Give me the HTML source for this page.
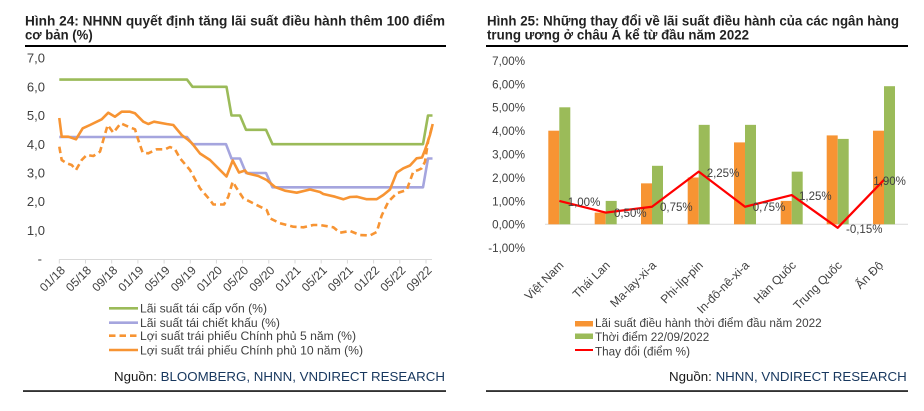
<!DOCTYPE html>
<html>
<head>
<meta charset="utf-8">
<style>
html,body{margin:0;padding:0;background:#fff;}
svg{display:block;}
text{font-family:"Liberation Sans",Arial,sans-serif;}
</style>
</head>
<body>
<svg width="924" height="411" viewBox="0 0 924 411" xmlns="http://www.w3.org/2000/svg">
<rect width="924" height="411" fill="#fff"/>

<!-- ============ LEFT CHART ============ -->
<text x="25" y="25.7" font-size="13.5" font-weight="bold" fill="#222" textLength="420" lengthAdjust="spacingAndGlyphs">Hình 24: NHNN quyết định tăng lãi suất điều hành thêm 100 điểm</text>
<text x="25" y="39.3" font-size="13.5" font-weight="bold" fill="#222" textLength="67.7" lengthAdjust="spacingAndGlyphs">cơ bản (%)</text>
<rect x="25" y="45" width="421" height="2" fill="#000"/>

<!-- y labels -->
<g font-size="13" fill="#404040" text-anchor="end">
<text x="45" y="62.7">7,0</text>
<text x="45" y="91.4">6,0</text>
<text x="45" y="120.1">5,0</text>
<text x="45" y="148.8">4,0</text>
<text x="45" y="177.5">3,0</text>
<text x="45" y="206.2">2,0</text>
<text x="45" y="234.9">1,0</text>
<text x="42" y="263.6">-</text>
</g>

<!-- x axis -->
<line x1="59" y1="259.5" x2="432" y2="259.5" stroke="#D9D9D9" stroke-width="1"/>
<g stroke="#D9D9D9" stroke-width="1">
<line x1="59.3" y1="259.5" x2="59.3" y2="263.5"/>
<line x1="85.5" y1="259.5" x2="85.5" y2="263.5"/>
<line x1="111.7" y1="259.5" x2="111.7" y2="263.5"/>
<line x1="137.9" y1="259.5" x2="137.9" y2="263.5"/>
<line x1="164.1" y1="259.5" x2="164.1" y2="263.5"/>
<line x1="190.3" y1="259.5" x2="190.3" y2="263.5"/>
<line x1="216.4" y1="259.5" x2="216.4" y2="263.5"/>
<line x1="242.6" y1="259.5" x2="242.6" y2="263.5"/>
<line x1="268.8" y1="259.5" x2="268.8" y2="263.5"/>
<line x1="295.0" y1="259.5" x2="295.0" y2="263.5"/>
<line x1="321.2" y1="259.5" x2="321.2" y2="263.5"/>
<line x1="347.4" y1="259.5" x2="347.4" y2="263.5"/>
<line x1="373.6" y1="259.5" x2="373.6" y2="263.5"/>
<line x1="399.8" y1="259.5" x2="399.8" y2="263.5"/>
<line x1="426.0" y1="259.5" x2="426.0" y2="263.5"/>
</g>
<g font-size="12" fill="#404040" text-anchor="end">
<text transform="translate(65.8,271) rotate(-45)">01/18</text>
<text transform="translate(92.0,271) rotate(-45)">05/18</text>
<text transform="translate(118.2,271) rotate(-45)">09/18</text>
<text transform="translate(144.4,271) rotate(-45)">01/19</text>
<text transform="translate(170.6,271) rotate(-45)">05/19</text>
<text transform="translate(196.8,271) rotate(-45)">09/19</text>
<text transform="translate(222.9,271) rotate(-45)">01/20</text>
<text transform="translate(249.1,271) rotate(-45)">05/20</text>
<text transform="translate(275.3,271) rotate(-45)">09/20</text>
<text transform="translate(301.5,271) rotate(-45)">01/21</text>
<text transform="translate(327.7,271) rotate(-45)">05/21</text>
<text transform="translate(353.9,271) rotate(-45)">09/21</text>
<text transform="translate(380.1,271) rotate(-45)">01/22</text>
<text transform="translate(406.3,271) rotate(-45)">05/22</text>
<text transform="translate(432.5,271) rotate(-45)">09/22</text>
</g>

<!-- series -->
<polyline fill="none" stroke="#9BBB59" stroke-width="2.6" stroke-linejoin="round"
 points="59.3,79.6 187,79.6 192.5,86.8 226.5,86.8 231.5,115.5 240,115.5 246,129.8 266,129.8 272.5,144.2 423,144.2 428,115.5 432.5,115.5"/>
<polyline fill="none" stroke="#A5A5DE" stroke-width="2.6" stroke-linejoin="round"
 points="59.3,137 187,137 192.5,144.2 226,144.2 231.5,158.5 240,158.5 246,173 266,173 272.5,187.3 423,187.3 428,158.5 432.5,158.5"/>
<polyline fill="none" stroke="#F79433" stroke-width="2.6" stroke-linejoin="round" stroke-dasharray="6.5,4"
 points="59.3,146.7 61.7,160 66.7,163.3 71.7,165 76,170 81.7,160 86.7,155 93.3,156 100,151.7 103.3,140 107.7,125 113.3,132.7 120.7,123.3 128.3,126.7 135,129.3 138.3,140 142.7,152.7 148.3,153.3 156.7,149.3 165,149.3 170,147 175,149.3 180,158.3 190,170 200,188.3 210,200 213.3,204.5 224,204.5 228.3,196.7 232.7,181.7 236.7,188.3 243.3,198.3 253.3,203.3 263.3,208.3 266.7,210 270,218.3 280,223.3 293.3,226.7 303.3,227.3 313.3,225 320,225 333.3,227.3 340,232.7 350,231 360,235 370,235.5 376.7,232 381.7,215.5 388.3,201.7 396.7,193.3 406.7,190 413.3,171.7 418.3,170 421.7,168.3 425,161.7 428.3,140 431.7,128"/>
<polyline fill="none" stroke="#F79433" stroke-width="2.6" stroke-linejoin="round"
 points="59.3,118 61.7,136.7 68.3,136.7 76,139.3 82.7,128.3 90,125 101.7,119.3 108.3,112.7 115,116.7 121.7,111.7 130,111.7 135,113.3 143.3,121.7 148.3,124 154,121.7 166.7,124 173.3,125 181.7,135 188.3,140 192,143.3 200,153.5 210,160 218.3,168.3 226.5,176.5 232.7,160.5 239,172.5 245,170.5 247.3,173.3 258.3,176 266.7,180 275,187 285,190.7 296.7,192.7 310,189.5 320,192 323.3,194 335,196.7 343.3,199.3 350,197 357,196.7 366.7,199.2 376.7,199.2 383.3,195 390,189.5 396.7,172.7 403.3,168.3 410,165.5 416.7,158.3 422,157.5 425,150 430,135 432.7,124"/>

<!-- legend left -->
<line x1="109" y1="308.3" x2="138" y2="308.3" stroke="#9BBB59" stroke-width="2.6"/>
<line x1="109" y1="322.7" x2="138" y2="322.7" stroke="#A5A5DE" stroke-width="2.6"/>
<line x1="109" y1="335.7" x2="138" y2="335.7" stroke="#F79433" stroke-width="2.6" stroke-dasharray="6.5,4"/>
<line x1="109" y1="350" x2="138" y2="350" stroke="#F79433" stroke-width="2.6"/>
<g font-size="12.3" fill="#404040">
<text x="140" y="312.6" textLength="127" lengthAdjust="spacingAndGlyphs">Lãi suất tái cấp vốn (%)</text>
<text x="140" y="327" textLength="140" lengthAdjust="spacingAndGlyphs">Lãi suất tái chiết khấu (%)</text>
<text x="140" y="340" textLength="216" lengthAdjust="spacingAndGlyphs">Lợi suất trái phiếu Chính phủ 5 năm (%)</text>
<text x="140" y="354.3" textLength="223" lengthAdjust="spacingAndGlyphs">Lợi suất trái phiếu Chính phủ 10 năm (%)</text>
</g>

<text x="114" y="381" font-size="13.3" textLength="331" lengthAdjust="spacingAndGlyphs"><tspan fill="#1a1a1a">Nguồn: </tspan><tspan fill="#17375E">BLOOMBERG, NHNN, VNDIRECT RESEARCH</tspan></text>
<rect x="23" y="390.3" width="423" height="1.5" fill="#000"/>

<!-- ============ RIGHT CHART ============ -->
<text x="487" y="25.7" font-size="13.5" font-weight="bold" fill="#222" textLength="412" lengthAdjust="spacingAndGlyphs">Hình 25: Những thay đổi về lãi suất điều hành của các ngân hàng</text>
<text x="487" y="39.3" font-size="13.5" font-weight="bold" fill="#222" textLength="262" lengthAdjust="spacingAndGlyphs">trung ương ở châu Á kể từ đầu năm 2022</text>
<rect x="486" y="45" width="422" height="2" fill="#000"/>

<g font-size="11.6" fill="#404040" text-anchor="end">
<text x="525" y="64.9">7,00%</text>
<text x="525" y="88.3">6,00%</text>
<text x="525" y="111.7">5,00%</text>
<text x="525" y="135.1">4,00%</text>
<text x="525" y="158.5">3,00%</text>
<text x="525" y="181.9">2,00%</text>
<text x="525" y="205.3">1,00%</text>
<text x="525" y="228.7">0,00%</text>
<text x="525" y="252.1">-1,00%</text>
</g>

<line x1="545" y1="224.3" x2="908" y2="224.3" stroke="#D9D9D9" stroke-width="1"/>

<!-- bars: zero y=224.3, 23.4 px/unit -->
<g fill="#F79433">
<rect x="548.3" y="130.7" width="11" height="93.6"/>
<rect x="594.7" y="212.6" width="11" height="11.7"/>
<rect x="641" y="183.35" width="11" height="40.95"/>
<rect x="687.7" y="177.5" width="11" height="46.8"/>
<rect x="734" y="142.4" width="11" height="81.9"/>
<rect x="780.7" y="200.9" width="11" height="23.4"/>
<rect x="826.7" y="135.4" width="11" height="88.9"/>
<rect x="873" y="130.7" width="11" height="93.6"/>
</g>
<g fill="#9BBB59">
<rect x="559.3" y="107.3" width="11" height="117"/>
<rect x="605.7" y="200.9" width="11" height="23.4"/>
<rect x="652" y="165.8" width="11" height="58.5"/>
<rect x="698.7" y="124.85" width="11" height="99.45"/>
<rect x="745" y="124.85" width="11" height="99.45"/>
<rect x="791.7" y="171.65" width="11" height="52.65"/>
<rect x="837.7" y="138.9" width="11" height="85.4"/>
<rect x="884" y="86.2" width="11" height="138.1"/>
</g>

<polyline fill="none" stroke="#FF0000" stroke-width="2.2" stroke-linejoin="round"
 points="559.3,200.9 605.7,212.6 652,206.75 698.7,171.65 745,206.75 791.7,195.05 837.7,227.8 884,179.8"/>

<g font-size="11.5" fill="#404040">
<text x="567.7" y="206">1,00%</text>
<text x="614" y="217">0,50%</text>
<text x="660" y="211">0,75%</text>
<text x="706.7" y="177">2,25%</text>
<text x="752.7" y="211">0,75%</text>
<text x="799" y="200">1,25%</text>
<text x="846" y="233">-0,15%</text>
<text x="873.3" y="185">1,90%</text>
</g>

<g font-size="12" fill="#404040" text-anchor="end">
<text transform="translate(564.3,266) rotate(-45)">Việt Nam</text>
<text transform="translate(610.7,266) rotate(-45)">Thái Lan</text>
<text transform="translate(657,266) rotate(-45)">Ma-lay-xi-a</text>
<text transform="translate(703.7,266) rotate(-45)">Phi-líp-pin</text>
<text transform="translate(750,266) rotate(-45)">In-đô-nê-xi-a</text>
<text transform="translate(796.7,266) rotate(-45)">Hàn Quốc</text>
<text transform="translate(842.7,266) rotate(-45)">Trung Quốc</text>
<text transform="translate(884,266) rotate(-45)">Ấn Độ</text>
</g>

<!-- legend right -->
<rect x="575" y="321" width="18" height="5.5" fill="#F79433"/>
<rect x="575" y="333.5" width="18" height="5.5" fill="#9BBB59"/>
<line x1="575" y1="350" x2="593" y2="350" stroke="#FF0000" stroke-width="2"/>
<g font-size="12.3" fill="#404040">
<text x="595" y="327.2" textLength="226.7" lengthAdjust="spacingAndGlyphs">Lãi suất điều hành thời điểm đầu năm 2022</text>
<text x="595" y="341" textLength="114.3" lengthAdjust="spacingAndGlyphs">Thời điểm 22/09/2022</text>
<text x="595" y="355.3" textLength="95" lengthAdjust="spacingAndGlyphs">Thay đổi (điểm %)</text>
</g>

<text x="669" y="381" font-size="13.3" textLength="237.7" lengthAdjust="spacingAndGlyphs"><tspan fill="#1a1a1a">Nguồn: </tspan><tspan fill="#17375E">NHNN, VNDIRECT RESEARCH</tspan></text>
<rect x="486" y="390.3" width="422" height="1.5" fill="#000"/>
</svg>
</body>
</html>
